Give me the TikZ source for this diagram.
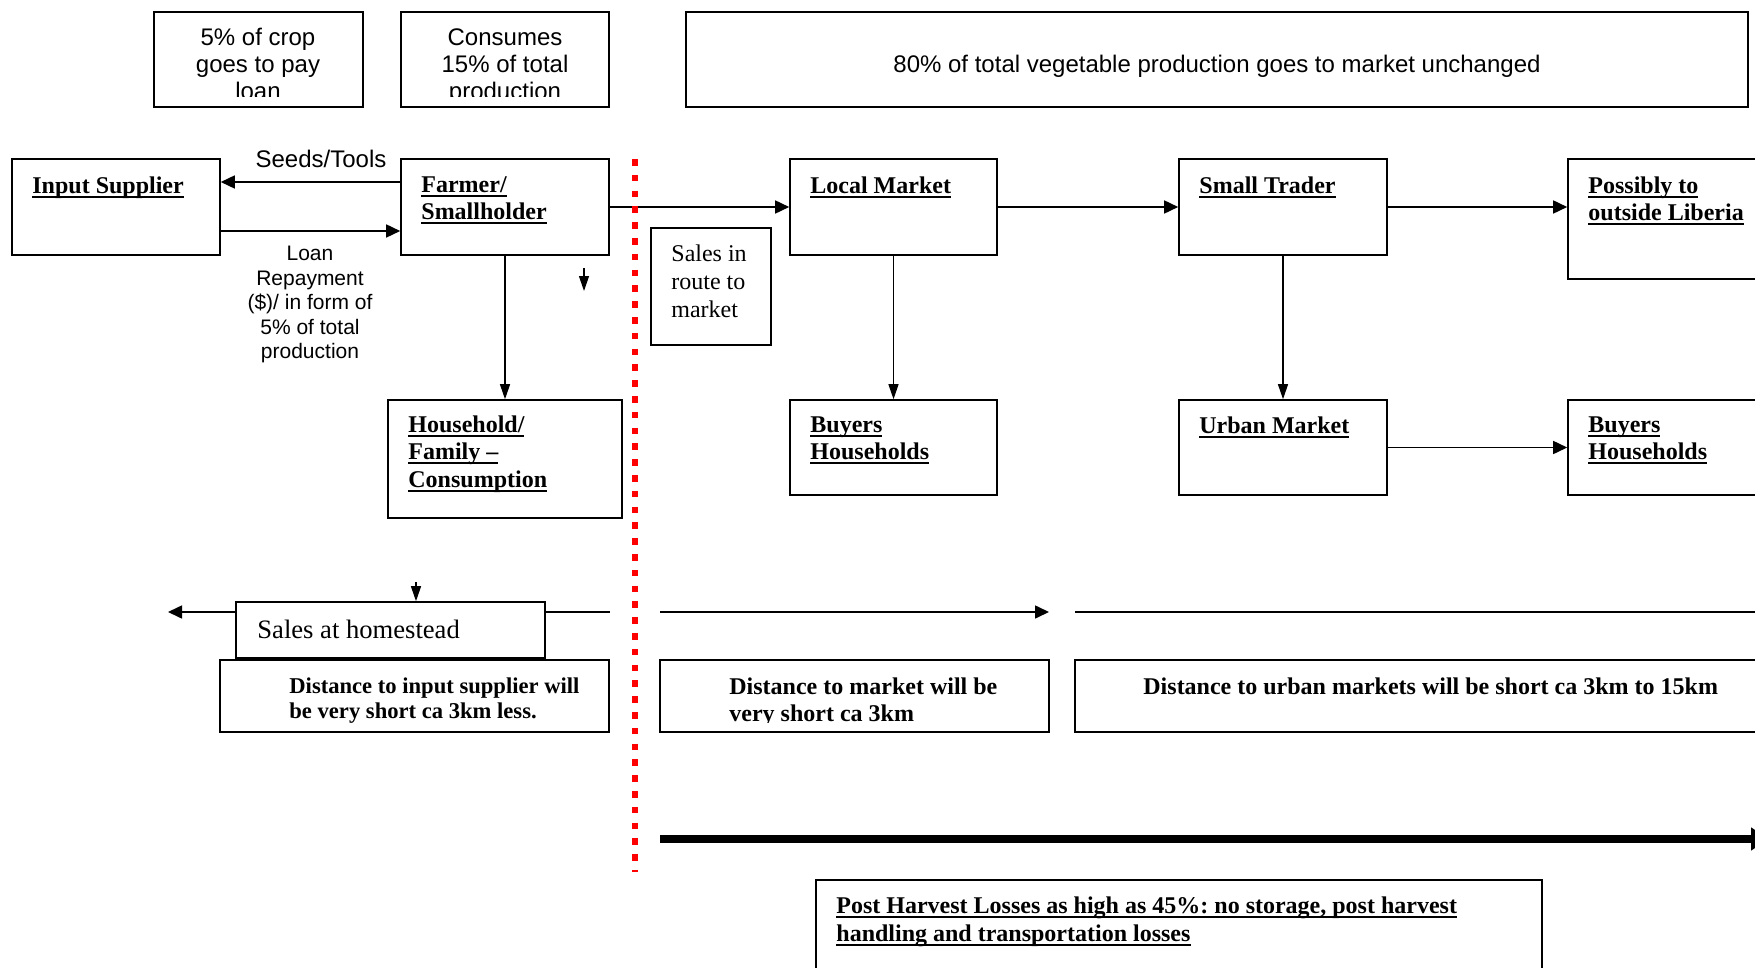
\documentclass[tikz,border=0pt]{standalone}
\usepackage{fontspec}
\setmainfont{Liberation Serif}
\newfontfamily\arialfam{Liberation Sans}
\usetikzlibrary{positioning,fit,arrows.meta}
\frenchspacing

\newsavebox\ulinebox
\newcommand\ulbf[1]{\sbox\ulinebox{#1}\rlap{\rule[-2.3pt]{\wd\ulinebox}{1pt}}\usebox\ulinebox}

\begin{document}
\begin{tikzpicture}[x=0.5pt,y=-0.5pt,
    flowbox/.style={draw,line width=0.8pt,fill=white,inner sep=0pt},
    boxtitle/.style={anchor=north west,inner sep=0pt,align=left,font=\bfseries\fontsize{12}{13.8}\selectfont},
    boxtext/.style={anchor=north west,inner sep=0pt,align=left,font=\fontsize{12}{14}\selectfont},
    sanslbl/.style={inner sep=0pt,align=center,font=\arialfam\fontsize{12}{13.5}\selectfont},
    flow/.style={line width=0.8pt,-{Triangle[length=7pt,width=6.5pt]}},
    drop/.style={line width=0.6pt,-{Triangle[length=7.5pt,width=5pt]}},
    fence/.style={draw=red,line width=3.2pt,dash pattern=on 3.3pt off 4.6pt}]
  \useasboundingbox (0,0) rectangle (1755,968);
  \clip (0,0) rectangle (1755,968);

  % notes along the top
  \node[flowbox,fit={(154,12) (363,107)}] (loanbox) {};
  \node[flowbox,fit={(401,12) (609,107)}] (consbox) {};
  \node[flowbox,fit={(686,12) (1748,107)}] (unchbox) {};
  \begin{scope}
    \clip (154,12) rectangle (363,97);
    \node[sanslbl,anchor=north] (loantxt) at (258,28) {5\% of crop\\goes to pay\\loan};
  \end{scope}
  \begin{scope}
    \clip (401,12) rectangle (609,97);
    \node[sanslbl,anchor=north] (constxt) at (505,28) {Consumes\\15\% of total\\production};
  \end{scope}
  \node[sanslbl,anchor=base] (unchtxt) at (1217,73) {80\% of total vegetable production goes to market unchanged};

  % chain boxes
  \node[flowbox,fit={(12,159) (220,255)}] (insup) {};
  \node[flowbox,fit={(401,159) (609,255)}] (farmer) {};
  \node[flowbox,fit={(790,159) (997,255)}] (lmkt) {};
  \node[flowbox,fit={(1179,159) (1387,255)}] (strader) {};
  \node[flowbox,fit={(1568,159) (1775,279)}] (abroad) {};
  \node[flowbox,fit={(651,228) (771,345)}] (route) {};
  \node[flowbox,fit={(388,400) (622,518)}] (hhold) {};
  \node[flowbox,fit={(790,400) (997,495)}] (buyA) {};
  \node[flowbox,fit={(1179,400) (1387,495)}] (urban) {};
  \node[flowbox,fit={(1568,400) (1775,495)}] (buyB) {};

  \node[boxtitle] (insup-t) at (32,176) {\ulbf{Input Supplier}};
  \node[boxtitle] (farmer-t) at (421,176) {\ulbf{Farmer/}\\\ulbf{Smallholder}};
  \node[boxtitle] (lmkt-t) at (810,176) {\ulbf{Local Market}};
  \node[boxtitle] (strader-t) at (1199,176) {\ulbf{Small Trader}};
  \node[boxtitle] (abroad-t) at (1588,176) {\ulbf{Possibly to}\\\ulbf{outside Liberia}};
  \node[boxtext] (route-t) at (671,244) {Sales in\\route to\\market};
  \node[boxtitle] (hhold-t) at (408,415) {\ulbf{Household/}\\\ulbf{Family \textendash}\\\ulbf{Consumption}};
  \node[boxtitle] (buyA-t) at (810,416) {\ulbf{Buyers}\\\ulbf{Households}};
  \node[boxtitle] (urban-t) at (1199,416) {\ulbf{Urban Market}};
  \node[boxtitle] (buyB-t) at (1588,416) {\ulbf{Buyers}\\\ulbf{Households}};

  \draw[flow] ([yshift=12.5pt]farmer.west) -- ([yshift=12.5pt]insup.east);
  \draw[flow] ([yshift=-12pt]insup.east) -- ([yshift=-12pt]farmer.west);
  \node[sanslbl] (seedlbl) at (321,159) {Seeds/Tools};
  \node[sanslbl,anchor=north,font=\arialfam\fontsize{10.5}{12.2}\selectfont] (loanlbl) at (310,246)
    {Loan\\Repayment\\(\$)/ in form of\\5\% of total\\production};

  \draw[flow] (farmer.east) -- (lmkt.west);
  \draw[flow] (lmkt.east) -- (strader.west);
  \draw[flow] (strader.east) -- (strader.east -| abroad.west);
  \draw[flow] (urban.east) -- (buyB.west);
  \draw[drop] (farmer.south) -- (hhold.north);
  \draw[drop] (lmkt.south) -- (buyA.north);
  \draw[drop] (strader.south) -- (urban.north);
  \coordinate (tickA) at (584,268);
  \coordinate (tickB) at (584,291);
  \draw[drop] (tickA) -- (tickB);

  % distances
  \coordinate (homeR) at (610,612);
  \coordinate (homeL) at (168,612);
  \draw[flow] (homeR) -- (homeL);
  \coordinate (roadL) at (660,612);
  \coordinate (roadR) at (1049,612);
  \draw[flow] (roadL) -- (roadR);
  \coordinate (townL) at (1075,612);
  \coordinate (townR) at (1775,612);
  \draw[line width=0.8pt] (townL) -- (townR);

  \node[flowbox,fit={(236,602) (545,658)}] (homest) {};
  \node[boxtext,anchor=west,font=\fontsize{13.3}{15}\selectfont] (homest-t) at (257,629) {Sales at homestead};
  \coordinate (tickC) at (416,582);
  \draw[drop] (tickC) -- (tickC |- homest.north);

  \node[flowbox,fit={(220,660) (609,732)}] (dinput) {};
  \node[flowbox,fit={(660,660) (1049,732)}] (dmkt) {};
  \node[flowbox,fit={(1075,660) (1775,732)}] (durban) {};
  \node[boxtitle,font=\bfseries\fontsize{11.3}{12.9}\selectfont] (dinput-t) at (289,677)
    {Distance to input supplier will\\be very short ca 3km less.};
  \begin{scope}
    \clip (660,660) rectangle (1049,722);
    \node[boxtitle,font=\bfseries\fontsize{12}{13.5}\selectfont] (dmkt-t) at (729,677)
      {Distance to market will be\\very short ca 3km};
  \end{scope}
  \node[boxtitle] (durban-t) at (1143,677) {Distance to urban markets will be short ca 3km to 15km};

  % losses
  \coordinate (lossL) at (660,839);
  \coordinate (lossR) at (1769,839);
  \draw[line width=3.6pt,-{Triangle[length=9pt,width=11pt]}] (lossL) -- (lossR);
  \node[flowbox,fit={(816,880) (1542,985)}] (losses) {};
  \node[boxtitle,font=\bfseries\fontsize{12}{14}\selectfont] (losses-t) at (836,896)
    {\ulbf{Post Harvest Losses as high as 45\%: no storage, post harvest}\\\ulbf{handling and transportation losses}};

  % farm gate
  \coordinate (fenceT) at (635,159);
  \coordinate (fenceB) at (635,872);
  \draw[fence] (fenceT) -- (fenceB);
\end{tikzpicture}
\end{document}
